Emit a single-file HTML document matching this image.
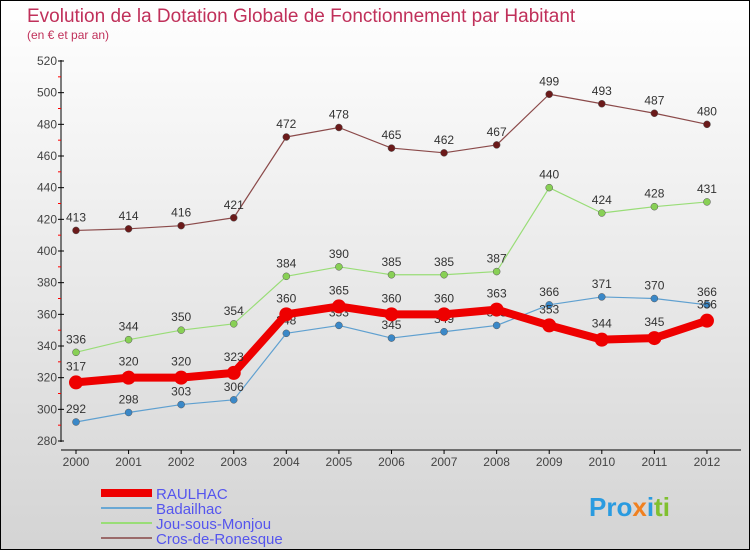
<!DOCTYPE html>
<html><head><meta charset="utf-8"><style>
body{margin:0}
#c{width:748px;height:548px;border:1px solid #000;background:linear-gradient(#fff,#d4d4d4);position:relative;font-family:"Liberation Sans",sans-serif;overflow:hidden}
</style></head><body>
<div id="c">
<svg id="s" width="748" height="548" xmlns="http://www.w3.org/2000/svg">
<text x="26" y="21" font-size="19" fill="#c0305a">Evolution de la Dotation Globale de Fonctionnement par Habitant</text>
<text x="26" y="38" font-size="12" fill="#c0305a">(en € et par an)</text>
<text x="588" y="515" font-size="26" font-weight="bold" fill="#2a9be0">Pro<tspan fill="#f08020">x</tspan><tspan fill="#2a9be0">i</tspan><tspan fill="#80c030">ti</tspan></text>
</svg>
</div>
<script>
const years=[2000,2001,2002,2003,2004,2005,2006,2007,2008,2009,2010,2011,2012];
const raulhac=[317,320,320,323,360,365,360,360,363,353,344,345,356];
const badailhac=[292,298,303,306,348,353,345,349,353,366,371,370,366];
const jous=[336,344,350,354,384,390,385,385,387,440,424,428,431];
const cros=[413,414,416,421,472,478,465,462,467,499,493,487,480];
const yTicks=[280,300,320,340,360,380,400,420,440,460,480,500,520];
const NS='http://www.w3.org/2000/svg';
const s=document.getElementById('s');
const X=i=>75+i*52.58, Y=v=>440-(v-280)*380/240;
function el(t,a,p){const e=document.createElementNS(NS,t);for(const k in a)e.setAttribute(k,a[k]);(p||s).appendChild(e);return e;}
let e=el('line',{x1:60,y1:59,x2:60,y2:441,stroke:'#000'});

e=el('line',{x1:60,y1:449,x2:740,y2:449,stroke:'#000'});

yTicks.forEach((v,i)=>{el('line',{x1:57,x2:63,y1:Y(v),y2:Y(v),stroke:'#000'});
if(i<yTicks.length-1)el('line',{x1:57,x2:60,y1:Y(v+10),y2:Y(v+10),stroke:'red'});
const t=el('text',{x:56,y:Y(v)+4,'text-anchor':'end','font-size':12,fill:'#444'});t.textContent=v;
});
years.forEach((y,i)=>{el('line',{x1:X(i),x2:X(i),y1:449,y2:453,stroke:'#000'});
const t=el('text',{x:X(i),y:465,'text-anchor':'middle','font-size':12,fill:'#444'});t.textContent=y;
});
function series(d,col,dot,w,r,name,labOff){
const g=el('g',{});
el('polyline',{points:d.map((v,i)=>X(i)+','+Y(v)).join(' '),fill:'none',stroke:col,'stroke-width':w,'stroke-linejoin':'round'},g);
d.forEach((v,i)=>{const c=el('circle',{cx:X(i),cy:Y(v),r:r,fill:dot,stroke:w>3?'none':'#555','stroke-width':0.5},g);

const t=el('text',{x:X(i),y:Y(v)-labOff,'text-anchor':'middle','font-size':12,fill:'#333'},g);t.textContent=v;
});}
series(cros,'#8b4a4a','#6b1a1a',1.2,3.5,'cros-de-ronesque',9);
series(jous,'#99dd77','#88d055',1.2,3.5,'jous-sous-monjou',9);
series(badailhac,'#5fa0d0','#3a88c8',1.2,3.5,'badailhac',9);
series(raulhac,'#ee0000','#ee0000',8,7,'raulhac',12);
const leg=[['RAULHAC','#ee0000',8],['Badailhac','#6aa8d4',2],['Jou-sous-Monjou','#99dd77',2],['Cros-de-Ronesque','#9a6a6a',2]];
leg.forEach((l,i)=>{const y=492+i*15;const g=el('g',{});

el('line',{x1:100,x2:151,y1:y,y2:y,stroke:l[1],'stroke-width':l[2]},g);
const t=el('text',{x:155,y:y+6,'font-size':15,fill:'#5555ee'},g);t.textContent=l[0];});
</script>
</body></html>
